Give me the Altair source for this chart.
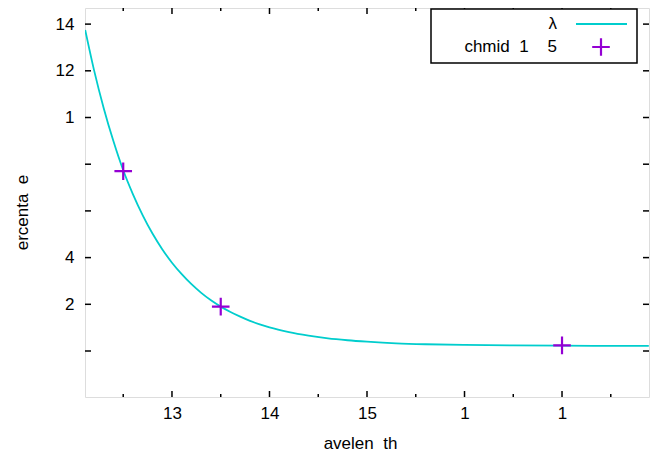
import altair as alt
import pandas as pd

# ---------------- data ----------------
curve_x = [12.11, 12.2, 12.3, 12.4, 12.5, 12.6, 12.7, 12.8, 12.9, 13.0,
           13.1, 13.2, 13.3, 13.4, 13.5, 13.6, 13.7, 13.8, 13.9, 14.0,
           14.2, 14.4, 14.6, 14.8, 15.0, 15.3, 15.6, 16.0, 16.5, 17.0,
           17.5, 17.89]
curve_y = [13.75, 12.04, 10.40, 8.98, 7.74, 6.71, 5.81, 5.03, 4.36, 3.78,
           3.29, 2.86, 2.49, 2.17, 1.90, 1.67, 1.47, 1.29, 1.14, 1.01,
           0.81, 0.66, 0.54, 0.46, 0.40, 0.33, 0.29, 0.26, 0.24, 0.23,
           0.22, 0.22]

point_x = [12.5, 13.5, 17.0]
point_y = [7.70, 1.90, 0.24]

x_tick_values = [13, 14, 15, 16, 17]
x_tick_labels = ["13", "14", "15", "1", "1"]
x_minor_values = [12.5, 13.5, 14.5, 15.5, 16.5, 17.5]
y_tick_values = [0, 2, 4, 6, 8, 10, 12, 14]
y_tick_labels = ["", "2", "4", "", "", "1", "12", "14"]

x_title = "avelen\u2007th"
y_title = "ercenta\u2007e"
legend_labels = ["\u03bb", "chmid\u00a0 1\u2007\u20075"]

# ---------------- layout / style ----------------
W, H = 564, 389
X_DOMAIN = [12.108, 17.892]
Y_DOMAIN = [-1.97, 14.69]
FONT = "Liberation Sans"
FS = 17
CYAN = "#00cdcd"
PURPLE = "#9400d3"
CROSS = "M-1,0L1,0M0,-1L0,1"


def label_expr(values, labels):
    expr = "''"
    for v, l in reversed(list(zip(values, labels))):
        expr = f"datum.value == {v} ? '{l}' : ({expr})"
    return expr


xs = alt.Scale(domain=X_DOMAIN, nice=False, zero=False)
ys = alt.Scale(domain=Y_DOMAIN, nice=False, zero=False)

curve_df = pd.DataFrame({"x": curve_x, "y": curve_y})
pts_df = pd.DataFrame({"x": point_x, "y": point_y})
xmaj_df = pd.DataFrame({"x": x_tick_values})
xmin_df = pd.DataFrame({"x": x_minor_values})
ymaj_df = pd.DataFrame({"y": y_tick_values})

x_axis = alt.Axis(
    values=x_tick_values, labelExpr=label_expr(x_tick_values, x_tick_labels),
    domain=False, ticks=False, grid=False, labelPadding=8,
    labelFont=FONT, labelFontSize=FS, labelColor="black",
    title=x_title, titleFont=FONT, titleFontSize=FS, titleFontWeight="normal",
    titleColor="black", titleX=275, titleY=46, titleBaseline="middle",
    titleAlign="center",
)
y_axis = alt.Axis(
    values=y_tick_values, labelExpr=label_expr(y_tick_values, y_tick_labels),
    domain=False, ticks=False, grid=False, labelPadding=11,
    labelFont=FONT, labelFontSize=FS, labelColor="black",
    title=y_title, titleFont=FONT, titleFontSize=FS, titleFontWeight="normal",
    titleColor="black", titleX=-63, titleY=204, titleBaseline="middle",
    titleAlign="center", titleAngle=270,
)


def X(f="x"):
    return alt.X(f + ":Q", scale=xs, axis=x_axis, title=x_title)


def Y(f="y"):
    return alt.Y(f + ":Q", scale=ys, axis=y_axis, title=y_title)


line = alt.Chart(curve_df).mark_line(
    color=CYAN, strokeWidth=1.8, interpolate="monotone", clip=True
).encode(x=X(), y=Y())

points = alt.Chart(pts_df).mark_point(
    shape=CROSS, size=310, stroke=PURPLE, strokeWidth=2.2, filled=False, opacity=1
).encode(x=X(), y=Y())

TICK = dict(color="black", strokeWidth=1.5)
bot_major = alt.Chart(xmaj_df).mark_rule(**TICK).encode(
    x=X(), y=alt.value(H), y2=alt.value(H - 6))
top_major = alt.Chart(xmaj_df).mark_rule(**TICK).encode(
    x=X(), y=alt.value(0), y2=alt.value(6))
bot_minor = alt.Chart(xmin_df).mark_rule(**TICK).encode(
    x=X(), y=alt.value(H), y2=alt.value(H - 3))
top_minor = alt.Chart(xmin_df).mark_rule(**TICK).encode(
    x=X(), y=alt.value(0), y2=alt.value(3))
left_major = alt.Chart(ymaj_df).mark_rule(**TICK).encode(
    y=Y(), x=alt.value(0), x2=alt.value(6))
right_major = alt.Chart(ymaj_df).mark_rule(**TICK).encode(
    y=Y(), x=alt.value(W), x2=alt.value(W - 6))

one = alt.Data(values=[{"k": 0}])
legend_box = alt.Chart(one).mark_rect(
    fill="white", stroke="black", strokeWidth=1.5
).encode(x=alt.value(346), x2=alt.value(552), y=alt.value(1), y2=alt.value(55))
legend_t1 = alt.Chart(one).mark_text(
    align="right", baseline="middle", font=FONT, fontSize=FS, color="black"
).encode(x=alt.value(472), y=alt.value(16), text=alt.value(legend_labels[0]))
legend_t2 = alt.Chart(one).mark_text(
    align="right", baseline="middle", font=FONT, fontSize=FS, color="black"
).encode(x=alt.value(472), y=alt.value(39), text=alt.value(legend_labels[1]))
legend_line = alt.Chart(one).mark_rule(color=CYAN, strokeWidth=1.8).encode(
    x=alt.value(491), x2=alt.value(542), y=alt.value(16))
legend_pt = alt.Chart(one).mark_point(
    shape=CROSS, size=310, stroke=PURPLE, strokeWidth=2.2, filled=False, opacity=1
).encode(x=alt.value(516), y=alt.value(39))

chart = alt.layer(
    line, bot_major, top_major, bot_minor, top_minor, left_major, right_major,
    points, legend_box, legend_t1, legend_t2, legend_line, legend_pt,
).properties(
    width=W, height=H,
    autosize=alt.AutoSizeParams(type="none"),
    padding={"left": 77, "top": 0, "right": 13, "bottom": 54},
).configure_view(
    stroke="black", strokeWidth=2
).configure(background="white")

chart.save("out.html", embed_options={"renderer": "svg", "actions": False})
